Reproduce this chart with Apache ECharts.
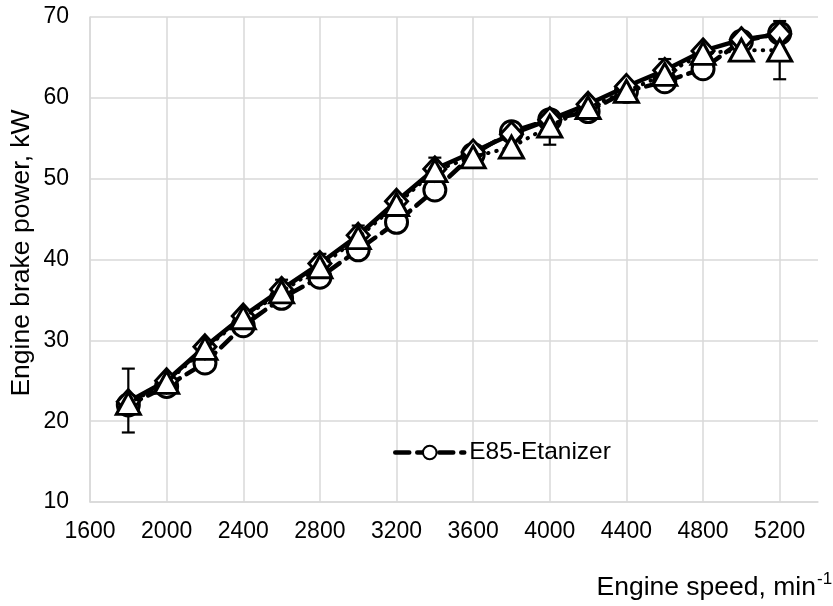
<!DOCTYPE html>
<html>
<head>
<meta charset="utf-8">
<script src="https://cdn.jsdelivr.net/npm/echarts@6/dist/echarts.min.js"></script>
<style>
html,body{margin:0;padding:0;background:#fff;}
#chart{width:833px;height:606px;}
</style>
</head>
<body>
<div id="chart"></div>
<script>
// ---- data ----
const speeds = [1800,2000,2200,2400,2600,2800,3000,3200,3400,3600,3800,4000,4200,4400,4600,4800,5000,5200];
const etanizerPower = [22.0,24.3,27.2,31.8,35.2,37.8,41.2,44.6,48.6,53.0,55.8,57.3,58.3,60.8,62.0,63.6,67.0,68.0];
const solidPower    = [22.4,25.0,29.2,33.0,36.3,39.5,43.0,47.2,51.2,53.3,55.5,57.3,59.2,61.4,63.4,65.8,67.2,67.9];
const dottedPower   = [22.2,24.8,29.0,32.8,36.0,39.1,42.7,46.8,51.0,52.7,53.9,56.5,58.8,60.8,62.9,65.5,65.9,65.9];
const errSpeeds = [1800,2600,2800,3000,3400,4000,4600,5200];
const errLow    = [18.6,36.0,39.1,42.7,51.0,54.2,61.3,62.3];
const errHigh   = [26.5,37.5,40.7,44.2,52.6,56.5,64.8,69.5];
const xTickLabels = [1600,2000,2400,2800,3200,3600,4000,4400,4800,5200];
const yTickLabels = [10,20,30,40,50,60,70];
const legendName = 'E85-Etanizer';

const font = '"Liberation Sans", Arial, sans-serif';
const gridColor = '#d9d9d9';

const chart = echarts.init(document.getElementById('chart'), null, {renderer:'canvas'});

function pairs(ys){ return speeds.map((x,i)=>[x, ys[i]]); }

const option = {
  animation: false,
  backgroundColor: '#fff',
  grid: {left: 90, right: 15, top: 17, bottom: 104, containLabel: false},
  legend: {
    data: [legendName],
    left: 393, top: 440, padding: 0,
    itemWidth: 69, itemHeight: 17,
    lineStyle: {width: 4.5},
    textStyle: {fontFamily: font, fontSize: 24.5, color: '#000'}
  },
  xAxis: {
    type: 'value', min: xTickLabels[0], max: 5400, interval: 400,
    axisLine: {show: true, lineStyle: {color: gridColor, width: 1.5}},
    axisTick: {show: false},
    splitLine: {show: false},
    axisLabel: {
      fontFamily: font, fontSize: 23, color: '#000', margin: 18,
      showMaxLabel: false,
      formatter: v => (xTickLabels.indexOf(v) >= 0 ? String(v) : '')
    }
  },
  yAxis: {
    type: 'value', min: yTickLabels[0], max: yTickLabels[yTickLabels.length-1], interval: 10,
    axisLine: {show: true, lineStyle: {color: gridColor, width: 1.5}},
    axisTick: {show: false},
    splitLine: {show: true, lineStyle: {color: gridColor, width: 1.5}},
    axisLabel: {fontFamily: font, fontSize: 23, color: '#000', margin: 21}
  },
  graphic: [
    {type: 'text', x: 22, y: 253, rotation: Math.PI/2,
     style: {text: 'Engine brake power, kW', fontFamily: font, fontSize: 26.5, fill: '#000',
             textAlign: 'center', textVerticalAlign: 'middle'}},
    {type: 'text', x: 816, y: 588,
     style: {text: 'Engine speed, min', fontFamily: font, fontSize: 26.5, fill: '#000',
             textAlign: 'right', textVerticalAlign: 'middle'}},
    {type: 'text', x: 817, y: 579,
     style: {text: '-1', fontFamily: font, fontSize: 17, fill: '#000',
             textAlign: 'left', textVerticalAlign: 'middle'}}
  ],
  series: [
    {
      name: 'gridlines', type: 'line', data: [], z: 0, silent: true,
      markLine: {
        silent: true, symbol: ['none','none'], label: {show: false}, z: 0,
        lineStyle: {color: gridColor, width: 1.5, type: 'solid'},
        data: xTickLabels.map(v => ({xAxis: v}))
      }
    },
    {
      name: 'error bars', type: 'custom', z: 1, silent: true,
      data: errSpeeds.map((x,i)=>[x, errLow[i], errHigh[i]]),
      encode: {x: 0, y: [1,2]},
      renderItem: function(params, api){
        const x = api.value(0), lo = api.value(1), hi = api.value(2);
        const p1 = api.coord([x, lo]), p2 = api.coord([x, hi]);
        const w = 6.5, st = {stroke: '#000', lineWidth: 2.2};
        return {type: 'group', children: [
          {type: 'line', shape: {x1: p1[0], y1: p1[1], x2: p2[0], y2: p2[1]}, style: st},
          {type: 'line', shape: {x1: p1[0]-w, y1: p1[1], x2: p1[0]+w, y2: p1[1]}, style: st},
          {type: 'line', shape: {x1: p2[0]-w, y1: p2[1], x2: p2[0]+w, y2: p2[1]}, style: st}
        ]};
      }
    },
    {
      name: legendName, type: 'line', z: 2, data: pairs(etanizerPower),
      symbol: 'circle', symbolSize: 22,
      itemStyle: {color: '#fff', borderColor: '#000', borderWidth: 3},
      lineStyle: {color: '#000', width: 4.5, type: [14, 8], cap: 'round'}
    },
    {
      name: 'Series 1', type: 'line', z: 3, data: pairs(solidPower),
      symbol: 'diamond', symbolSize: [22, 24],
      itemStyle: {color: '#fff', borderColor: '#000', borderWidth: 3},
      lineStyle: {color: '#000', width: 4.5, type: 'solid'}
    },
    {
      name: 'Series 3', type: 'line', z: 4, data: pairs(dottedPower),
      symbol: 'triangle', symbolSize: [24, 22],
      itemStyle: {color: '#fff', borderColor: '#000', borderWidth: 3},
      lineStyle: {color: '#000', width: 4, type: [0.5, 8], cap: 'round'}
    }
  ]
};
chart.setOption(option);
</script>
</body>
</html>
